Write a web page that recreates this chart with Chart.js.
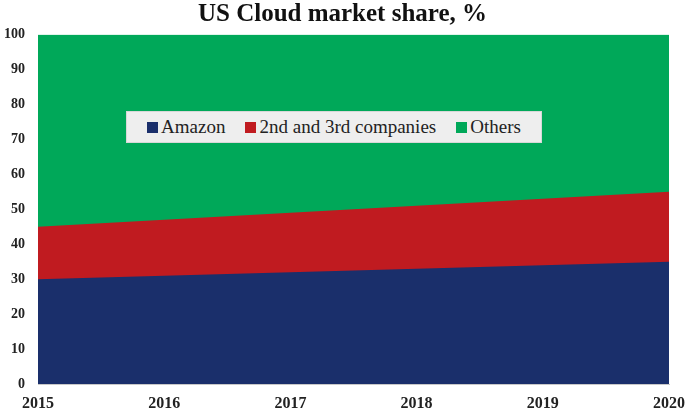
<!DOCTYPE html>
<html>
<head>
<meta charset="utf-8">
<script src="https://cdn.jsdelivr.net/npm/chart.js@4/dist/chart.umd.min.js"></script>
<style>
  html, body { margin: 0; padding: 0; background: #fff; }
  #wrap { position: relative; width: 685px; height: 412px; }
  #legend {
    position: absolute; left: 126px; top: 111px; width: 416px; height: 32px;
    background: #eeeeee; border: 1px solid #d8d8d8; box-sizing: border-box;
    display: flex; align-items: center; justify-content: center;
    font: 19px "Liberation Serif", "DejaVu Serif", serif; color: #222;
  }
  #legend span.item { display: inline-flex; align-items: center; margin: 0 10px; }
  #legend i { display: inline-block; width: 11px; height: 11px; margin-right: 3px; }
</style>
</head>
<body>
<div id="wrap">
  <canvas id="cloudChart" width="685" height="412"></canvas>
  <div id="legend"></div>
</div>
<script>
const years = ['2015', '2016', '2017', '2018', '2019', '2020'];
const amazon = [30, 31, 32, 33, 34, 35];
const secondThird = [15, 16, 17, 18, 19, 20];
const others = [55, 53, 51, 49, 47, 45];
const yTicks = [0, 10, 20, 30, 40, 50, 60, 70, 80, 90, 100];

const serif = '"Liberation Serif", "DejaVu Serif", serif';

function area(label, data, color) {
    return {
        label: label,
        data: data,
        backgroundColor: color,
        borderColor: color,
        borderWidth: 0,
        pointRadius: 0,
        fill: true,
        tension: 0
    };
}

const ctx = document.getElementById('cloudChart');

const chart = new Chart(ctx, {
    type: 'line',
    data: {
        labels: years,
        datasets: [
            area('Amazon', amazon, '#1a2f6b'),
            area('2nd and 3rd companies', secondThird, '#c01b20'),
            area('Others', others, '#00a859')
        ]
    },
    options: {
        responsive: false,
        animation: false,
        layout: { padding: 0 },
        plugins: {
            legend: { display: false },
            tooltip: { enabled: false },
            title: {
                display: true,
                text: 'US Cloud market share, %',
                color: '#111',
                font: { family: serif, size: 25, weight: 'bold', lineHeight: 1.1 },
                padding: { top: 1, bottom: 6 }
            }
        },
        scales: {
            x: {
                offset: false,
                grid: { display: false, drawOnChartArea: false, drawTicks: true, tickLength: 5, color: '#bbb' },
                border: { display: true, color: '#c8c8c8' },
                ticks: {
                    color: '#222',
                    maxRotation: 0,
                    padding: 5,
                    font: { family: serif, size: 16, weight: 'bold' }
                },
                afterFit: function (scale) {
                    scale.height = 28;
                    scale.paddingLeft = 0;
                    scale.paddingRight = 16;
                }
            },
            y: {
                stacked: true,
                min: 0,
                max: 100,
                afterBuildTicks: function (scale) {
                    scale.ticks = yTicks.map(function (v) { return { value: v }; });
                },
                grid: { display: false, drawTicks: false },
                border: { display: false },
                ticks: {
                    color: '#222',
                    padding: 13,
                    font: { family: serif, size: 14, weight: 'bold' }
                },
                afterFit: function (scale) { scale.width = 38; }
            }
        }
    }
});

// legend box inside the plot, built from the datasets
const legendEl = document.getElementById('legend');
chart.data.datasets.forEach(function (ds) {
    const item = document.createElement('span');
    item.className = 'item';
    const sw = document.createElement('i');
    sw.style.background = ds.backgroundColor;
    item.appendChild(sw);
    item.appendChild(document.createTextNode(ds.label));
    legendEl.appendChild(item);
});
</script>
</body>
</html>
